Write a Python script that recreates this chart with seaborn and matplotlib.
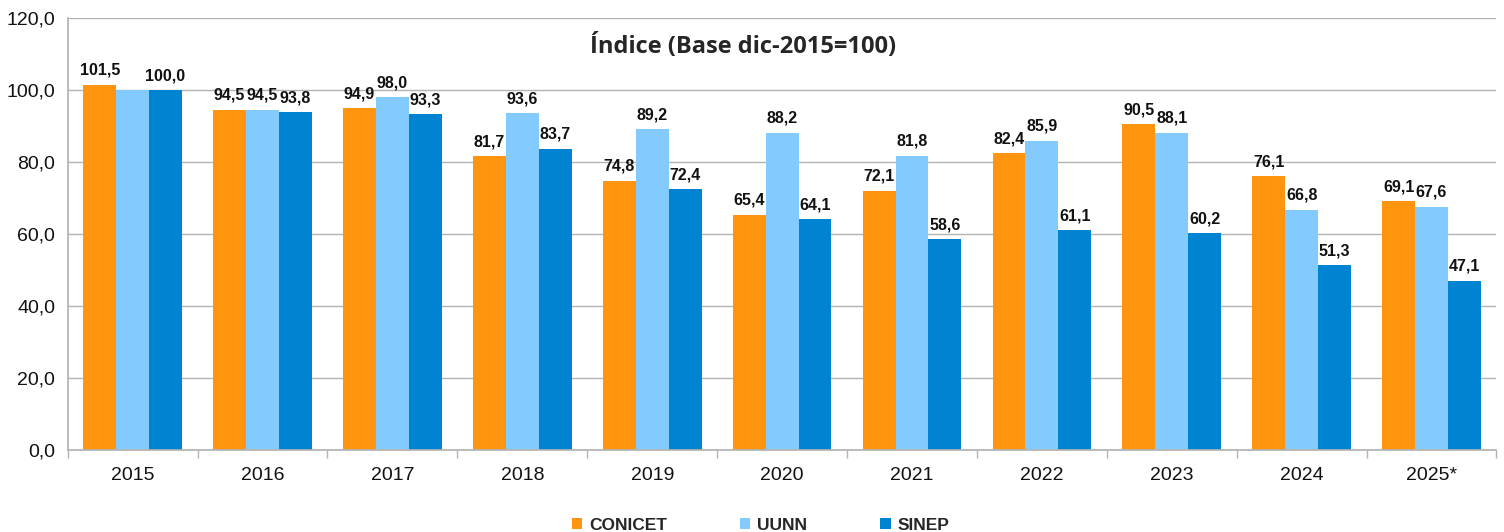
import pandas as pd
import numpy as np
import matplotlib.pyplot as plt
import seaborn as sns
from matplotlib.ticker import FuncFormatter, FixedLocator

sns.set_theme(style="white")
plt.rcParams['font.family'] = ['Liberation Sans', 'DejaVu Sans']

years = ['2015', '2016', '2017', '2018', '2019', '2020', '2021', '2022', '2023', '2024', '2025*']
conicet = [101.5, 94.5, 94.9, 81.7, 74.8, 65.4, 72.1, 82.4, 90.5, 76.1, 69.1]
uunn = [100.0, 94.5, 98.0, 93.6, 89.2, 88.2, 81.8, 85.9, 88.1, 66.8, 67.6]
sinep = [100.0, 93.8, 93.3, 83.7, 72.4, 64.1, 58.6, 61.1, 60.2, 51.3, 47.1]
series = ['CONICET', 'UUNN', 'SINEP']
colors = ['#FF950E', '#83CAFF', '#0084D1']

df = pd.DataFrame({'year': years * 3,
                   'serie': np.repeat(series, len(years)),
                   'valor': conicet + uunn + sinep})

fig = plt.figure(figsize=(15.04, 5.32), dpi=100)
ax = fig.add_axes([0.045, 0.154, 0.95, 0.812])

sns.barplot(data=df, x='year', y='valor', hue='serie', palette=colors,
            width=0.76, saturation=1, linewidth=0, ax=ax, legend=True)

for i, cont in enumerate(ax.containers):
    labels = [f"{v:.1f}".replace('.', ',') for v in cont.datavalues]
    if i == 1:
        labels[0] = ''  # hidden behind neighbours in the original
    ax.bar_label(cont, labels=labels, padding=5, fontsize=11.5, fontweight='bold', color='#111111')

ax.set_ylim(0, 120)
ax.set_xlim(-0.5, len(years) - 0.5)
ax.yaxis.set_major_locator(FixedLocator(np.arange(0, 121, 20)))
ax.yaxis.set_major_formatter(FuncFormatter(lambda v, p: f"{v:.1f}".replace('.', ',')))
ax.grid(axis='y', color='#b3b3b3', linewidth=1)
ax.set_axisbelow(True)
for s in ['top', 'right']:
    ax.spines[s].set_visible(False)
ax.spines['left'].set_color('#b3b3b3')
ax.spines['bottom'].set_color('#b3b3b3')
ax.tick_params(axis='both', labelsize=14, colors='#111111', length=0)
ax.tick_params(axis='y', pad=9)
ax.tick_params(axis='x', pad=12)
ax.set_xticks(np.arange(-0.5, len(years), 1), minor=True)
ax.tick_params(axis='x', which='minor', length=6, color='#b3b3b3', bottom=True)
ax.set_xlabel('')
ax.set_ylabel('')

ax.text(0.473, 0.935, 'Índice (Base dic-2015=100)', transform=ax.transAxes,
        ha='center', va='center', fontsize=17, fontweight='bold', family='Open Sans')

ax.legend(loc='upper center', bbox_to_anchor=(0.485, -0.12), ncol=3, frameon=False,
          handlelength=0.6, handleheight=0.6, columnspacing=4.2, handletextpad=0.4,
          prop={'weight': 'bold', 'size': 12.5})

fig.savefig('out.png', dpi=100)
